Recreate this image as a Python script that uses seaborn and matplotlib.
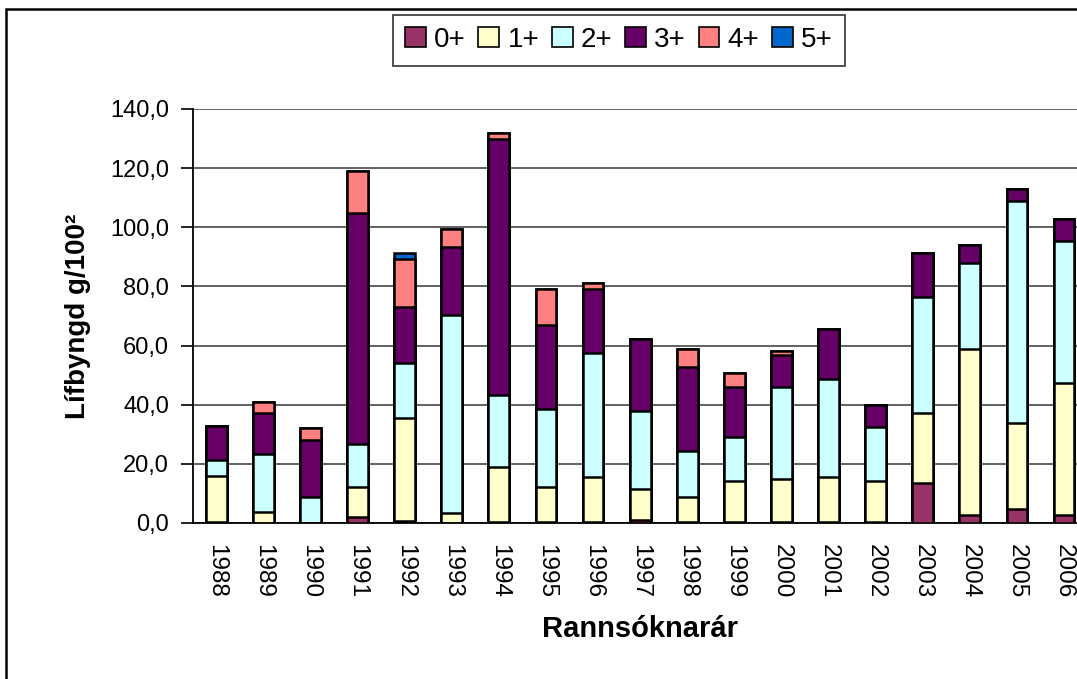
import pandas as pd
import numpy as np
import seaborn as sns
import matplotlib.pyplot as plt
from matplotlib.patches import Patch, Rectangle

# gögn lesin af myndinni
years = [str(y) for y in range(1988, 2007)]
age_classes = ['0+', '1+', '2+', '3+', '4+', '5+']
colors = ['#993366', '#FFFFCC', '#CCFFFF', '#660066', '#FF8080', '#0066CC']

a0 = [0.5, 0.0, 0.0, 2.1, 0.8, 0.0, 0.3, 0.3, 0.3, 1.0, 0.3, 0.3, 0.3, 0.3, 0.3, 13.6, 2.8, 4.8, 2.8]
a1 = [15.3, 3.6, 0.0, 10.2, 34.6, 3.5, 18.7, 12.0, 15.4, 10.6, 8.6, 14.0, 14.7, 15.4, 14.0, 23.7, 56.1, 29.1, 44.6]
a2 = [5.4, 19.6, 8.9, 14.3, 18.7, 66.8, 24.4, 26.3, 41.9, 26.3, 15.6, 14.9, 31.1, 33.1, 18.3, 39.2, 29.1, 75.1, 48.1]
a3 = [11.5, 14.1, 19.2, 78.3, 18.9, 23.1, 86.6, 28.4, 21.6, 24.4, 28.4, 16.9, 10.8, 16.9, 7.4, 14.9, 6.1, 4.1, 7.4]
a4 = [0.0, 3.5, 3.9, 14.3, 16.3, 6.1, 2.0, 12.2, 2.1, 0.0, 6.1, 4.7, 1.4, 0.0, 0.0, 0.0, 0.0, 0.0, 0.0]
a5 = [0.0, 0.0, 0.0, 0.0, 2.1, 0.0, 0.0, 0.0, 0.0, 0.0, 0.0, 0.0, 0.0, 0.0, 0.0, 0.0, 0.0, 0.0, 0.0]

df = pd.DataFrame({'ar': years, '0+': a0, '1+': a1, '2+': a2, '3+': a3, '4+': a4, '5+': a5})
cum = df[age_classes].cumsum(axis=1)
cum['ar'] = df['ar']

sns.set_style('white')
plt.rcParams['font.family'] = ['Liberation Sans', 'DejaVu Sans']
plt.rcParams['text.color'] = 'black'
plt.rcParams['axes.labelcolor'] = 'black'
plt.rcParams['xtick.color'] = 'black'
plt.rcParams['ytick.color'] = 'black'

fig = plt.figure(figsize=(10.77, 6.79), dpi=100)
ax = fig.add_axes([192.7 / 1077, 156 / 679, (1087.6 - 192.7) / 1077, 414 / 679])

# staflaðar súlur: efsta lagið fyrst, hin ofan á
for i in range(len(age_classes) - 1, -1, -1):
    sns.barplot(x='ar', y=age_classes[i], data=cum, order=years, color=colors[i],
                width=0.44, edgecolor='black', linewidth=1.8, errorbar=None,
                saturation=1, ax=ax, zorder=3)

ax.set_ylim(0, 140)
ax.set_xlim(-0.5, len(years) - 0.5)
ax.set_yticks(np.arange(0, 141, 20))
ax.set_yticklabels([f'{v},0' for v in range(0, 141, 20)], fontsize=17)
ax.yaxis.grid(True, color='#555555', linewidth=1.3, zorder=0)
ax.set_axisbelow(True)

ax.set_xticks(range(len(years)))
ax.set_xticklabels(years, rotation=270, fontsize=17.5)
ax.set_xticks(np.arange(-0.5, len(years), 1), minor=True)
ax.tick_params(axis='x', which='major', length=0, pad=15)
ax.tick_params(axis='x', which='minor', length=9, width=1.2, color='black', direction='out')
ax.tick_params(axis='y', length=9, width=1.2, color='black', direction='out', left=True, pad=8)

for s in ['top', 'right']:
    ax.spines[s].set_visible(False)
for s in ['left', 'bottom']:
    ax.spines[s].set_color('black')
    ax.spines[s].set_linewidth(1.3)

ax.set_xlabel('Rannsóknarár', fontsize=21, fontweight='bold', labelpad=12)
ax.set_ylabel('Lífbyngd g/100²', fontsize=20, fontweight='bold', labelpad=14)

handles = [Patch(facecolor=c, edgecolor='black', linewidth=1.2) for c in colors]
leg = fig.legend(handles, age_classes, loc='center', bbox_to_anchor=(619 / 1077, 1 - 40 / 679),
                 ncol=6, fontsize=20, frameon=True, fancybox=False, handlelength=0.75,
                 handleheight=0.75, handletextpad=0.3, columnspacing=0.45, borderpad=0.45,
                 borderaxespad=0)
leg.get_frame().set_edgecolor('black')
leg.get_frame().set_linewidth(1.2)

fig.add_artist(Rectangle((6 / 1077, -0.1), 1.2, 1.1 - 9 / 679, fill=False,
                         edgecolor='black', linewidth=1.8, transform=fig.transFigure))

fig.savefig('out.png', dpi=100)
